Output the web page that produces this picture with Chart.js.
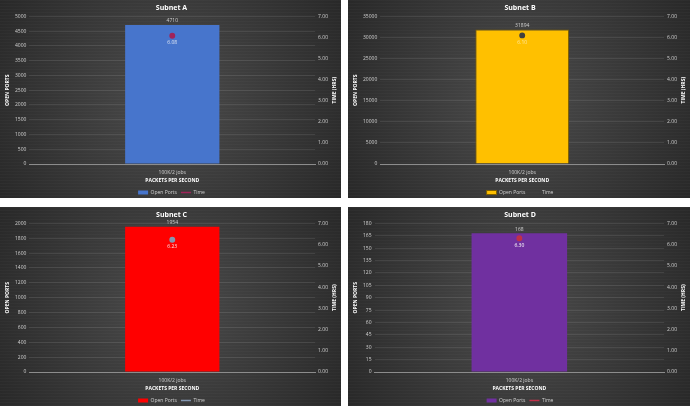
<!DOCTYPE html>
<html>
<head>
<meta charset="utf-8">
<script src="https://cdn.jsdelivr.net/npm/chart.js@4"></script>
<style>
  html, body { margin: 0; padding: 0; background: #ffffff; }
  body { width: 690px; height: 406px; position: relative; overflow: hidden; }
  .panel { position: absolute; }
</style>
</head>
<body>
<div class="panel" style="left:0;top:0;width:341px;height:198px"><canvas id="chartA" width="341" height="198"></canvas></div>
<div class="panel" style="left:348px;top:0;width:342px;height:198px"><canvas id="chartB" width="342" height="198"></canvas></div>
<div class="panel" style="left:0;top:207px;width:341px;height:199px"><canvas id="chartC" width="341" height="199"></canvas></div>
<div class="panel" style="left:348px;top:207px;width:342px;height:199px"><canvas id="chartD" width="342" height="199"></canvas></div>
<script>
// chart data
const subnetNames = ["Subnet A", "Subnet B", "Subnet C", "Subnet D"]
const categories = ["100K/2 jobs"]
const openPorts = [4710, 31894, 1954, 168]
const timeHrs = [6.08, 6.10, 6.23, 6.30]
const portAxisMax = [5000, 35000, 2000, 180]
const portAxisStep = [500, 5000, 200, 15]
const timeAxisMax = 7
const timeAxisStep = 1

// styles per panel
const canvasIds = ["chartA", "chartB", "chartC", "chartD"]
const barColors = ["#4775cc", "#ffc000", "#ff0000", "#7030a0"]
const barBorders = ["#4775cc", "#7f6000", "#ff0000", "#7030a0"]
const lineColors = ["#e0504d", "#4bacc6", "#bdd7ee", "#ffc000"]
const markerColors = ["#a0245a", "#404040", "#8497b0", "#c0304a"]
const timeLabelColors = ["#dae3f3", "#ffe699", "#ffe0e0", "#ffffff"]

const FONT = "'Open Sans', 'DejaVu Sans', sans-serif"
const TEXT = "#d0d0d0"
const TIME_TITLE = "TIME (HRS)"

const backdrop = {
  id: "backdrop",
  beforeDraw(chart) {
    const c = chart.ctx
    const w = chart.width, h = chart.height
    c.save()
    const g = c.createRadialGradient(w / 2, h / 2, 10, w / 2, h / 2, w * 0.6)
    g.addColorStop(0, "#4a4a4a")
    g.addColorStop(1, "#272727")
    c.fillStyle = g
    c.fillRect(0, 0, w, h)
    c.fillStyle = "rgba(255,255,255,0.025)"
    for (let y = 0; y < h; y += 3) c.fillRect(0, y, w, 1)
    c.restore()
  }
}

// bar / point values + right axis title drawn bottom-to-top like the left one
const valueLabels = {
  id: "valueLabels",
  afterDatasetsDraw(chart, args, opts) {
    const c = chart.ctx
    const bar = chart.getDatasetMeta(0).data[0]
    const pt = chart.getDatasetMeta(1).data[0]
    c.save()
    c.font = "5px " + FONT
    c.textAlign = "center"
    c.textBaseline = "middle"
    c.fillStyle = TEXT
    c.fillText(String(chart.data.datasets[0].data[0]), bar.x, bar.y - 4)
    c.fillStyle = opts.color
    c.fillText(chart.data.datasets[1].data[0].toFixed(2), pt.x, pt.y + 7)

    const s = chart.scales.y1
    c.translate(s.right - 4, (s.top + s.bottom) / 2)
    c.rotate(-Math.PI / 2)
    c.font = "bold 5px " + FONT
    c.fillStyle = "#ffffff"
    c.fillText(TIME_TITLE, 0, 0)
    c.restore()
  }
}

function legendItems(chart) {
  const items = Chart.defaults.plugins.legend.labels.generateLabels(chart)
  items.forEach((it) => {
    it.pointStyle = it.datasetIndex === 0 ? "rect" : "line"
  })
  return items.sort((a, b) => a.datasetIndex - b.datasetIndex)
}

function makeChart(i) {
  const el = document.getElementById(canvasIds[i])
  return new Chart(el, {
    data: {
      labels: categories,
      datasets: [
        {
          type: "bar",
          label: "Open Ports",
          data: [openPorts[i]],
          yAxisID: "y",
          backgroundColor: barColors[i],
          borderColor: barBorders[i],
          borderWidth: i === 1 ? 1 : 0,
          barPercentage: 0.33,
          categoryPercentage: 1,
          order: 2,
        },
        {
          type: "line",
          label: "Time",
          data: [timeHrs[i]],
          yAxisID: "y1",
          borderColor: lineColors[i],
          borderWidth: 1.5,
          borderDash: i === 3 ? [2, 1] : [],
          pointRadius: 2.2,
          pointStyle: "circle",
          pointBackgroundColor: markerColors[i],
          pointBorderColor: markerColors[i],
          order: 1,
        },
      ],
    },
    options: {
      responsive: false,
      animation: false,
      // negative bottom padding eats the legend's fixed extra height
      layout: { padding: { left: 4, right: 2, top: 0, bottom: -7 } },
      scales: {
        x: {
          grid: { display: false, drawTicks: false },
          border: { color: "#8c8c8c" },
          ticks: { color: TEXT, font: { family: FONT, size: 5 }, padding: 6 },
          title: { display: true, text: "PACKETS PER SECOND", color: "#ffffff", font: { family: FONT, size: 5, weight: "bold" }, padding: { top: -4, bottom: 2 } },
        },
        y: {
          position: "left",
          min: 0,
          max: portAxisMax[i],
          ticks: { stepSize: portAxisStep[i], color: TEXT, font: { family: FONT, size: 5 }, padding: 3, callback: (v) => String(v) },
          grid: { color: "rgba(255,255,255,0.09)", drawTicks: false },
          border: { display: false },
          title: { display: true, text: "OPEN PORTS", color: "#ffffff", font: { family: FONT, size: 5, weight: "bold" }, padding: 1 },
        },
        y1: {
          position: "right",
          min: 0,
          max: timeAxisMax,
          ticks: { stepSize: timeAxisStep, color: TEXT, font: { family: FONT, size: 5 }, padding: 3, callback: (v) => Number(v).toFixed(2) },
          grid: { drawOnChartArea: false, drawTicks: false },
          border: { display: false },
          title: { display: true, text: TIME_TITLE, color: "rgba(0,0,0,0)", font: { family: FONT, size: 5, weight: "bold" }, padding: 1 },
        },
      },
      plugins: {
        title: { display: true, text: subnetNames[i], color: "#ffffff", font: { family: FONT, size: 7, weight: "bold" }, padding: { top: 4, bottom: 4 } },
        legend: {
          position: "bottom",
          labels: { color: TEXT, font: { family: FONT, size: 5 }, usePointStyle: true, pointStyleWidth: 10, boxHeight: 4, padding: 4, generateLabels: legendItems },
        },
        tooltip: { enabled: false },
        valueLabels: { color: timeLabelColors[i] },
      },
    },
    plugins: [backdrop, valueLabels],
  })
}

document.addEventListener("DOMContentLoaded", () => {
  for (let i = 0; i < 4; i++) makeChart(i)
})
</script>
</body>
</html>
